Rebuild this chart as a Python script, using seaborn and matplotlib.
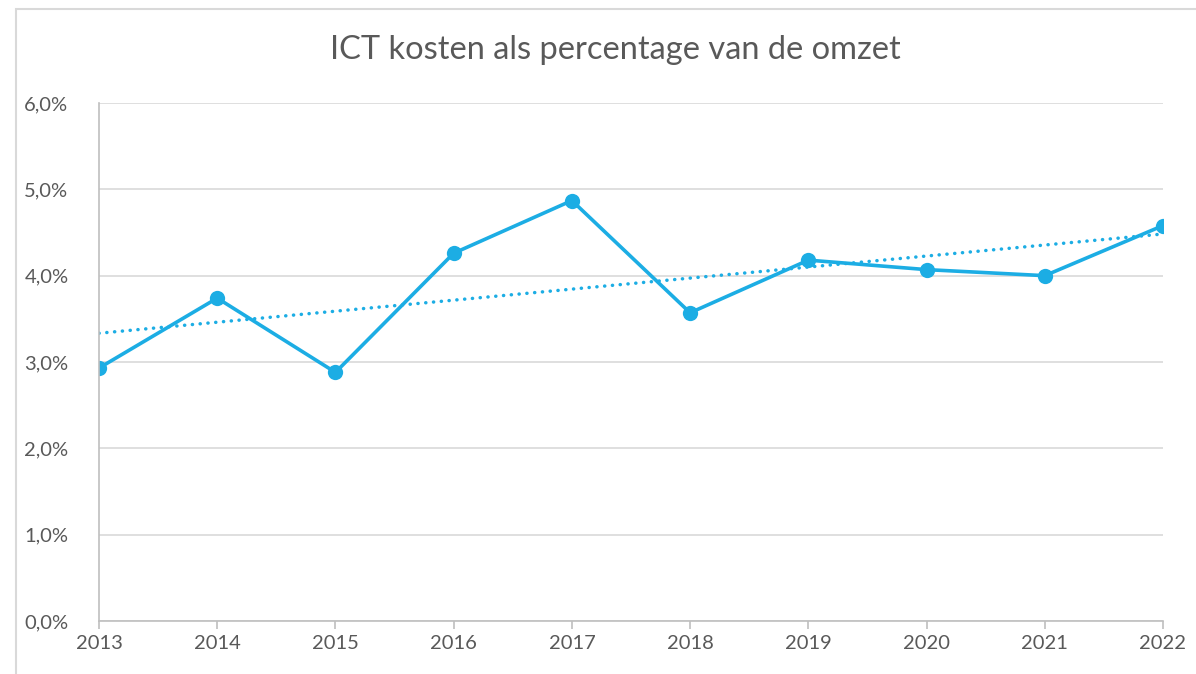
import numpy as np
import pandas as pd
import matplotlib
matplotlib.use("Agg")
import matplotlib.pyplot as plt
from matplotlib.patches import Rectangle
from matplotlib.ticker import FuncFormatter
import seaborn as sns

years = [2013, 2014, 2015, 2016, 2017, 2018, 2019, 2020, 2021, 2022]
values = [2.93, 3.74, 2.88, 4.26, 4.87, 3.57, 4.18, 4.07, 4.00, 4.58]
title = "ICT kosten als percentage van de omzet"
yticks = [0, 1, 2, 3, 4, 5, 6]

sns.set_theme(style="white")
plt.rcParams['font.family'] = ['Lato', 'DejaVu Sans']

df = pd.DataFrame({"jaar": years, "pct": values})
coef = np.polyfit(df["jaar"], df["pct"], 1)
df["trend"] = np.polyval(coef, df["jaar"])

fig = plt.figure(figsize=(11.96, 6.74), dpi=100)
ax = fig.add_axes([99/1196, 1-621/674, (1163-99)/1196, (621-103)/674])

color = "#1CADE4"
sns.lineplot(data=df, x="jaar", y="trend", ax=ax, color=color, lw=2.5,
             linestyle=(0, (0.05, 2.2)), dash_capstyle="round")
sns.lineplot(data=df, x="jaar", y="pct", ax=ax, color=color, lw=2.6,
             marker="o", markersize=11, markeredgewidth=0)

ax.set_xlim(years[0], years[-1])
ax.set_ylim(0, 6)
ax.set_yticks(yticks)
ax.set_xticks(years)
ax.yaxis.set_major_formatter(FuncFormatter(lambda v, p: f"{v:.1f}%".replace(".", ",")))
ax.grid(axis="y", color="#D9D9D9", lw=1.2)
ax.set_axisbelow(True)
for s in ["top", "right"]:
    ax.spines[s].set_visible(False)
for s in ["left", "bottom"]:
    ax.spines[s].set_color("#BFBFBF")
    ax.spines[s].set_linewidth(1.2)
ax.tick_params(axis="x", bottom=True, length=6, width=1.2, color="#BFBFBF",
               labelsize=14.5, labelcolor="#595959", pad=4)
ax.tick_params(axis="y", left=False, labelsize=14.5, labelcolor="#595959", pad=16)
ax.set_xlabel("")
ax.set_ylabel("")

fig.text(615/1196, 1-50/674, title, ha="center", va="center", fontsize=23.5, color="#595959")

fig.patches.append(Rectangle((16/1196, -0.1), 1.2, 1-9/674+0.1, transform=fig.transFigure,
                             fill=False, edgecolor="#D9D9D9", lw=1.5))

fig.savefig("out.png", dpi=100)
